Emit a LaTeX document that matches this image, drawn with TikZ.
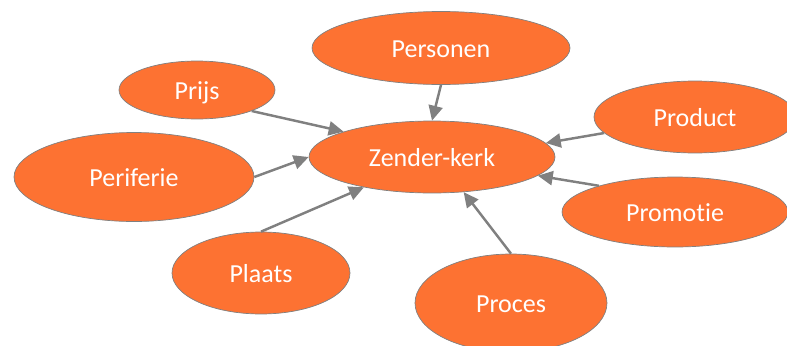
\documentclass[tikz,border=0pt]{standalone}
\usepackage{fontspec}
\usepackage{tikz}
\usetikzlibrary{shapes,arrows.meta,positioning}
\newfontfamily\calfont[RawFeature={-liga;-calt;-clig}]{Carlito}
\definecolor{mixorange}{RGB}{253,114,50}
\definecolor{mixgray}{RGB}{128,128,128}
\tikzset{
    mix/.style={ellipse, draw=mixgray, fill=mixorange, line width=0.4pt, text=white, inner sep=0pt,
        text height=10.6pt, text depth=0pt, font={\calfont\fontsize{14.8}{17}\selectfont}},
    pijl/.style={line width=1.4pt, mixgray, -{Triangle[length=8.5pt,width=8pt]}},
}

\begin{document}
\begin{tikzpicture}[x=0.02cm, y=-0.02cm]
    \clip (0,0) rectangle (787,345);
    % centre node
    \node[mix, minimum width=4.92cm, minimum height=1.44cm] (zender) at (432,157) {Zender-kerk};
    % the P's around it
    \node[mix, minimum width=5.16cm, minimum height=1.46cm] (personen) at (441,48) {Personen};
    \node[mix, minimum width=3.12cm, minimum height=1.16cm] (prijs) at (197,90) {Prijs};
    \node[mix, minimum width=4.04cm, minimum height=1.44cm] (product) at (695,117) {Product};
    \node[mix, minimum width=4.80cm, minimum height=1.78cm] (periferie) at (134,177) {Periferie};
    \node[mix, minimum width=4.52cm, minimum height=1.40cm] (promotie) at (675,212) {Promotie};
    \node[mix, minimum width=3.56cm, minimum height=1.64cm] (plaats) at (261,273) {Plaats};
    \node[mix, minimum width=3.84cm, minimum height=1.96cm] (proces) at (511,303) {Proces};

    \foreach \src/\dst in {personen.south/zender.north, prijs.-21/zender.164, periferie.0/zender.180,
                           plaats.north/zender.204, proces.north/zender.-48,
                           product.190/zender.7, promotie.161/zender.-10} {
        \draw[pijl] (\src) -- (\dst);
    }
\end{tikzpicture}
\end{document}
